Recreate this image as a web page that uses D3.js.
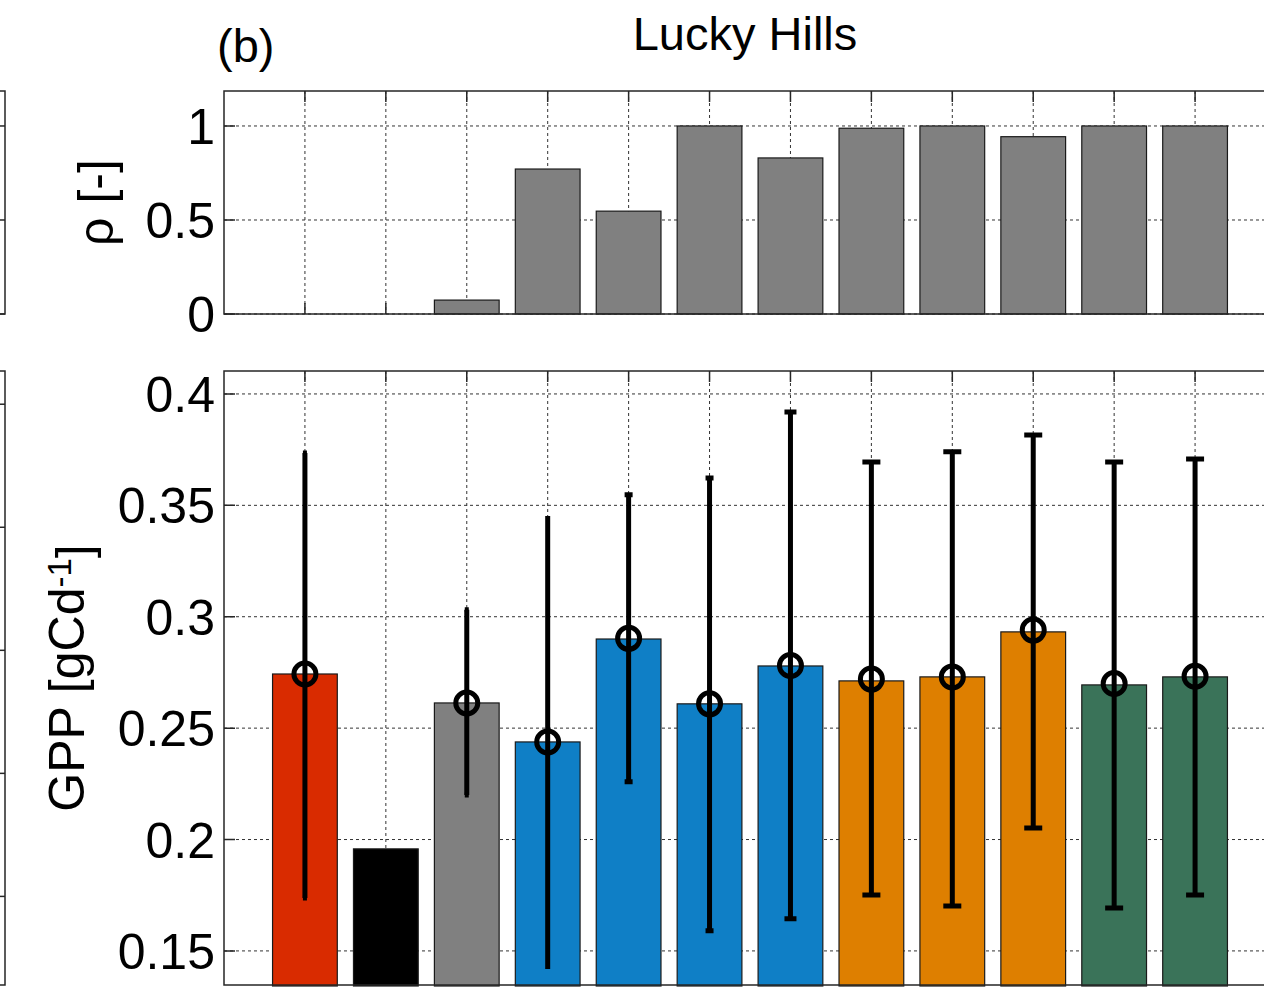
<!DOCTYPE html>
<html>
<head>
<meta charset="utf-8">
<script src="https://cdn.jsdelivr.net/npm/d3@7.9.0/dist/d3.min.js"></script>
<style>
  html, body { margin: 0; padding: 0; background: #fff; }
  svg { display: block; font-family: "Liberation Sans", Arial, sans-serif; }
</style>
</head>
<body>
<div id="chart"></div>
<script>
// ---- data ----
const runs = [1, 2, 3, 4, 5, 6, 7, 8, 9, 10, 11, 12];
const rho = [null, null, 0.074, 0.771, 0.547, 1.0, 0.83, 0.988, 1.0, 0.943, 1.0, 1.0];
const gpp = [0.2743, 0.1958, 0.2613, 0.2438, 0.2900, 0.2609, 0.2779, 0.2712, 0.2730, 0.2932, 0.2694, 0.2730];
const gppMean = [0.2743, null, 0.2613, 0.2438, 0.2903, 0.2609, 0.2781, 0.2720, 0.2730, 0.2940, 0.2700, 0.2733];
const gppHigh = [0.3735, null, 0.3031, 0.3452, 0.3547, 0.3623, 0.3919, 0.3695, 0.3740, 0.3816, 0.3695, 0.3708];
const gppLow = [0.1738, null, 0.2200, 0.1419, 0.2259, 0.1590, 0.1644, 0.1751, 0.1702, 0.2052, 0.1693, 0.1751];
const rhoTicks = [0, 0.5, 1];
const gppTicks = [0.15, 0.2, 0.25, 0.3, 0.35, 0.4];
const panelATicks = [0.1, 0.2, 0.3, 0.4, 0.5];   // neighbouring panel, only its edge shows

const barColors = ["#d92b00", "#000000", "#808080", "#0f7fc6", "#0f7fc6", "#0f7fc6", "#0f7fc6",
                   "#de7f00", "#de7f00", "#de7f00", "#3a7359", "#3a7359"];
const capWidth = [4, 0, 4, 0, 8, 8, 12, 18, 18, 18, 18, 18];

// ---- layout ----
const W = 1264, H = 995;
const left = 224, right = 1276;
const top1 = 91, bot1 = 314;
const top2 = 371, bot2 = 985;
const tickLen = 11;
const axisColor = "#262626";
const fontSize = 50;

const svg = d3.select("#chart").append("svg")
    .attr("width", W)
    .attr("height", H);

const x = d3.scaleLinear().domain([0, 13]).range([left, right]);
const bw = (x(1) - x(0)) * 0.8;

const yRho = d3.scaleLinear().domain([0, 1.186]).range([bot1, top1]);
const yGpp = d3.scaleLinear().domain([0.1347, 0.4103]).range([bot2, top2]);
const yA = d3.scaleLinear().domain([0.028, 0.527]).range([bot2, top2]);

// right edge of panel (a), cut off by the crop
function sliver(y, ticks, t, b) {
    const g = svg.append("g");
    g.append("path")
        .attr("d", `M-20,${t}H5V${b}H-20`)
        .attr("fill", "none")
        .attr("stroke", axisColor)
        .attr("stroke-width", 1.5);
    g.selectAll("line").data(ticks).join("line")
        .attr("x1", 5).attr("x2", 5 - tickLen)
        .attr("y1", d => y(d)).attr("y2", d => y(d))
        .attr("stroke", axisColor).attr("stroke-width", 1.5);
}
sliver(yRho, rhoTicks, top1, bot1);
sliver(yA, panelATicks, top2, bot2);

function panel(y, ticks, t, b, fmt) {
    const g = svg.append("g");
    // grid
    g.append("g").selectAll("line").data(runs).join("line")
        .attr("x1", d => x(d)).attr("x2", d => x(d))
        .attr("y1", t).attr("y2", b)
        .attr("stroke", "#333").attr("stroke-width", 1)
        .attr("stroke-dasharray", "3,3");
    g.append("g").selectAll("line").data(ticks).join("line")
        .attr("x1", left).attr("x2", right)
        .attr("y1", d => y(d)).attr("y2", d => y(d))
        .attr("stroke", "#333").attr("stroke-width", 1)
        .attr("stroke-dasharray", "3,3");
    // ticks on all four sides (pointing inward)
    const tk = g.append("g").attr("stroke", axisColor).attr("stroke-width", 1.5);
    tk.selectAll(".xt").data(runs).join("path").attr("class", "xt")
        .attr("d", d => `M${x(d)},${t}v${tickLen}M${x(d)},${b}v${-tickLen}`);
    tk.selectAll(".yt").data(ticks).join("path").attr("class", "yt")
        .attr("d", d => `M${left},${y(d)}h${tickLen}M${right},${y(d)}h${-tickLen}`);
    // tick labels
    g.append("g").selectAll("text").data(ticks).join("text")
        .attr("x", left - 9)
        .attr("y", d => y(d))
        .attr("dy", "0.36em")
        .attr("text-anchor", "end")
        .attr("font-size", fontSize)
        .attr("fill", "#000")
        .text(fmt);
    return g;
}

const fmtNum = d => d3.format("")(+d.toFixed(2));

// ---- top panel: rho ----
const g1 = panel(yRho, rhoTicks, top1, bot1, fmtNum);
g1.append("g").selectAll("rect")
    .data(runs.map((r, i) => ({ r, v: rho[i] })).filter(d => d.v !== null))
    .join("rect")
    .attr("x", d => x(d.r) - bw / 2)
    .attr("width", bw)
    .attr("y", d => yRho(d.v))
    .attr("height", d => yRho(0) - yRho(d.v))
    .attr("fill", "#808080")
    .attr("stroke", "#1a1a1a")
    .attr("stroke-width", 1.2);

// ---- bottom panel: GPP ----
const g2 = panel(yGpp, gppTicks, top2, bot2, fmtNum);
g2.append("g").selectAll("rect")
    .data(runs.map((r, i) => ({ r, v: gpp[i], c: barColors[i] })))
    .join("rect")
    .attr("x", d => x(d.r) - bw / 2)
    .attr("width", bw)
    .attr("y", d => yGpp(d.v))
    .attr("height", d => bot2 + 1 - yGpp(d.v))
    .attr("fill", d => d.c)
    .attr("stroke", "#1a1a1a")
    .attr("stroke-width", 1.2);

const eb = runs.map((r, i) => ({ r, m: gppMean[i], hi: gppHigh[i], lo: gppLow[i], cw: capWidth[i] }))
    .filter(d => d.m !== null);

g2.append("g").selectAll("line").data(eb).join("line")
    .attr("x1", d => x(d.r)).attr("x2", d => x(d.r))
    .attr("y1", d => yGpp(d.hi)).attr("y2", d => yGpp(d.lo))
    .attr("stroke", "#000").attr("stroke-width", 5);

g2.append("g").selectAll("path").data(eb.filter(d => d.cw > 0)).join("path")
    .attr("d", d => `M${x(d.r) - d.cw / 2},${yGpp(d.hi)}h${d.cw}M${x(d.r) - d.cw / 2},${yGpp(d.lo)}h${d.cw}`)
    .attr("stroke", "#000").attr("stroke-width", 5);

g2.append("g").selectAll("circle").data(eb).join("circle")
    .attr("cx", d => x(d.r))
    .attr("cy", d => yGpp(d.m))
    .attr("r", 11)
    .attr("fill", "none")
    .attr("stroke", "#000")
    .attr("stroke-width", 5);

// axes boxes on top
[[top1, bot1], [top2, bot2]].forEach(([t, b]) => {
    svg.append("rect")
        .attr("x", left).attr("y", t)
        .attr("width", right - left).attr("height", b - t)
        .attr("fill", "none")
        .attr("stroke", axisColor)
        .attr("stroke-width", 1.5);
});

// ---- labels ----
svg.append("text")
    .attr("x", 745).attr("y", 50)
    .attr("text-anchor", "middle")
    .attr("font-size", 47)
    .text("Lucky Hills");

svg.append("text")
    .attr("x", 217).attr("y", 62)
    .attr("font-size", 47)
    .text("(b)");

svg.append("text")
    .attr("transform", `translate(113,${(top1 + bot1) / 2}) rotate(-90)`)
    .attr("text-anchor", "middle")
    .attr("font-size", fontSize)
    .text("ρ [-]");

const gl = svg.append("text")
    .attr("transform", `translate(84,${(top2 + bot2) / 2}) rotate(-90)`)
    .attr("text-anchor", "middle")
    .attr("font-size", fontSize);
gl.append("tspan").text("GPP [gCd");
gl.append("tspan").attr("dy", "-0.4em").attr("font-size", 33).text("-1");
gl.append("tspan").attr("dy", "0.4em").text("]");
</script>
</body>
</html>
